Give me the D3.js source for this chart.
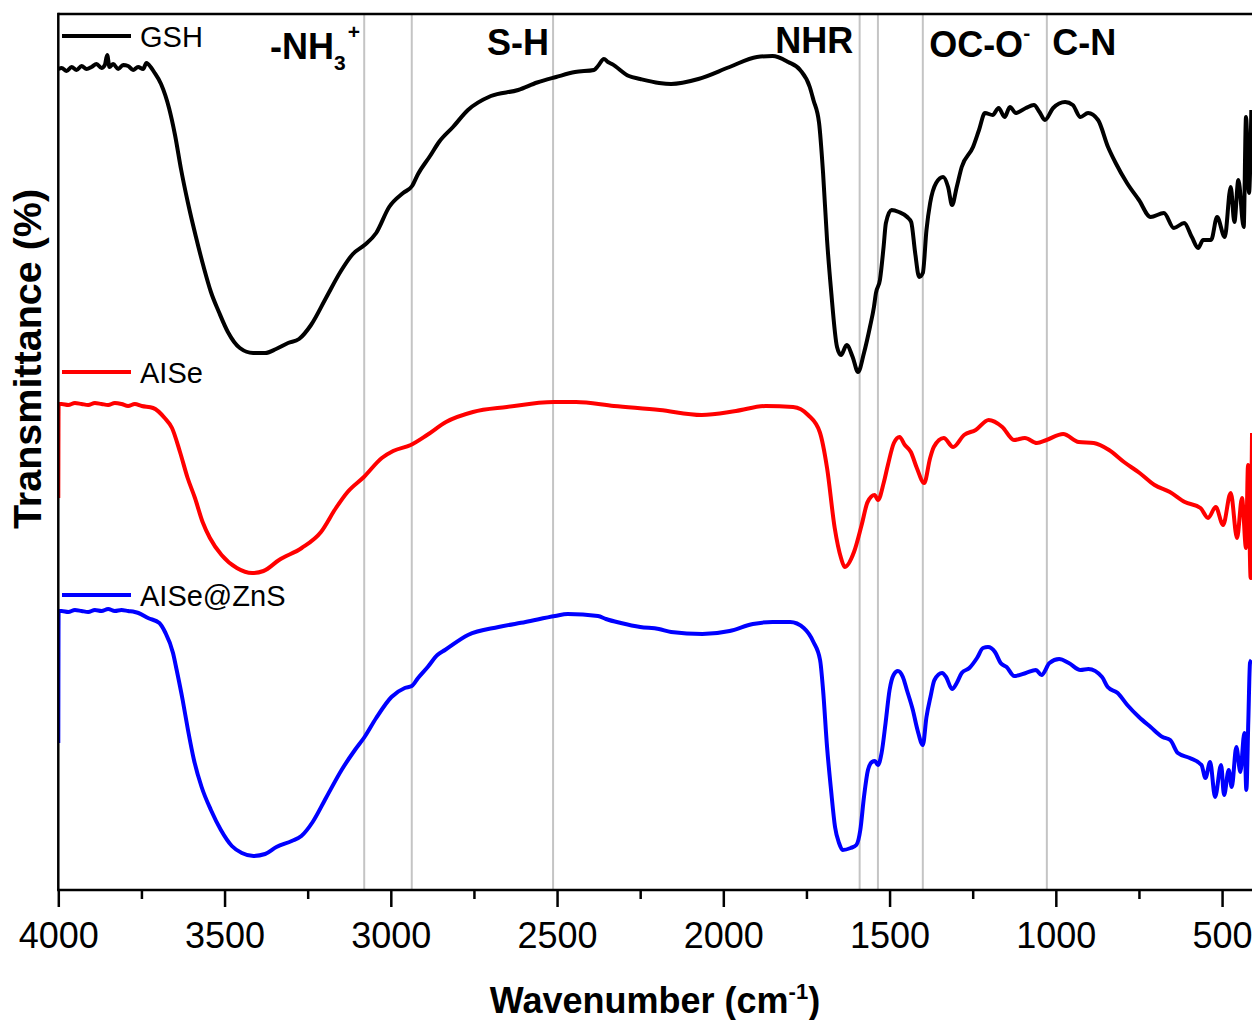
<!DOCTYPE html>
<html><head><meta charset="utf-8">
<script src="https://cdn.jsdelivr.net/npm/d3@7"></script>
<style>body{margin:0;background:#fff} svg{display:block}</style>
</head><body><svg id="c" width="1252" height="1020"></svg>
<script>
// ---- data: [wavenumber (cm-1), transmittance (a.u.)] ----
const gshSpectrum = [[4000,82.1],[3990,82.2],[3975,81.9],[3960,82.3],[3945,82.0],[3930,82.4],[3915,82.1],[3900,82.3],[3885,82.6],[3870,82.2],[3860,82.5],[3853,83.5],[3846,82.3],[3835,82.6],[3820,82.1],[3805,82.5],[3790,82.4],[3775,82.0],[3760,82.3],[3745,82.1],[3735,82.7],[3730,82.6],[3712,81.8],[3691,80.6],[3667,78.2],[3649,75.5],[3631,72.1],[3610,68.7],[3586,65.3],[3562,62.2],[3541,59.8],[3517,57.8],[3490,55.8],[3454,54.2],[3414,53.7],[3378,53.7],[3345,54.1],[3309,54.7],[3276,55.1],[3240,56.5],[3195,59.2],[3150,61.9],[3114,63.6],[3079,64.5],[3044,65.7],[3005,68.3],[2963,69.7],[2936,70.4],[2918,71.6],[2882,73.4],[2855,74.8],[2813,76.3],[2768,78.0],[2699,79.4],[2617,80.0],[2560,80.75],[2503,81.3],[2446,81.8],[2389,82.0],[2377,82.4],[2359,83.1],[2347,82.8],[2335,82.6],[2284,81.4],[2250,81.1],[2193,80.7],[2157,80.6],[2075,81.1],[1981,82.3],[1899,83.3],[1852,83.4],[1805,82.8],[1769,82.0],[1740,80.3],[1729,79.0],[1712,76.7],[1700,71.7],[1688,65.0],[1676,60.0],[1658,54.3],[1646,53.5],[1629,54.5],[1611,53.3],[1595,51.8],[1577,53.7],[1559,56.3],[1547,58.3],[1541,59.7],[1529,61.0],[1518,64.3],[1511,66.7],[1494,68.0],[1472,67.8],[1447,67.3],[1435,66.8],[1423,63.7],[1411,61.3],[1400,61.7],[1389,66.0],[1378,68.7],[1360,70.7],[1339,71.3],[1324,70.3],[1312,68.5],[1298,70.3],[1283,72.3],[1249,74.3],[1231,76.0],[1213,77.7],[1190,77.5],[1172,78.2],[1154,77.3],[1138,78.3],[1120,77.7],[1090,78.2],[1066,78.5],[1049,77.8],[1033,77.0],[1008,78.2],[972,78.8],[949,78.5],[926,77.3],[903,77.7],[873,77.0],[843,74.3],[820,72.7],[786,70.7],[750,69.0],[715,67.3],[675,67.7],[645,66.2],[614,66.7],[591,65.3],[572,64.2],[557,65.0],[533,65.0],[515,67.3],[492,65.3],[474,70.3],[463,66.8],[451,71.0],[435,66.3],[428,77.3],[419,69.7],[412,78.0]];

const aiseSpectrum = [[4000,39.2],[3999,48.6],[3990,48.6],[3970,48.5],[3950,48.7],[3930,48.6],[3910,48.5],[3890,48.7],[3870,48.6],[3850,48.5],[3830,48.7],[3810,48.6],[3790,48.4],[3770,48.6],[3749,48.4],[3715,48.2],[3680,47.2],[3658,46.2],[3634,43.8],[3611,41.2],[3589,39.2],[3566,36.8],[3544,35.2],[3509,33.5],[3463,32.2],[3417,31.7],[3383,31.9],[3336,33.0],[3268,34.2],[3210,35.8],[3165,38.2],[3130,39.8],[3081,41.3],[3027,43.2],[2993,43.9],[2940,44.5],[2891,45.5],[2834,46.8],[2753,47.8],[2651,48.3],[2510,48.8],[2443,48.8],[2329,48.4],[2191,48.0],[2065,47.5],[1962,47.9],[1872,48.4],[1790,48.3],[1745,47.5],[1710,45.8],[1688,42.2],[1665,36.2],[1646,33.2],[1635,32.3],[1607,33.8],[1584,36.5],[1566,38.8],[1545,39.5],[1535,39.0],[1517,40.8],[1505,42.5],[1487,44.7],[1470,45.3],[1454,44.5],[1436,43.8],[1418,42.2],[1396,40.7],[1378,43.2],[1367,44.3],[1337,45.2],[1309,44.3],[1276,45.5],[1241,46.0],[1202,47.0],[1161,46.3],[1126,45.0],[1093,45.2],[1057,44.7],[1028,45.0],[978,45.6],[931,44.8],[886,44.7],[840,44.0],[795,42.8],[748,41.7],[703,40.5],[657,39.8],[612,38.8],[565,38.2],[542,37.2],[519,38.3],[497,36.5],[474,39.7],[455,35.2],[440,39.2],[428,34.2],[422,42.5],[414,31.2],[410,45.7]];

const aiseZnsSpectrum = [[4000,14.7],[3999,27.9],[3990,27.9],[3970,27.8],[3950,28.0],[3930,27.9],[3910,27.8],[3890,28.0],[3870,27.9],[3850,28.1],[3830,27.9],[3810,28.0],[3790,27.9],[3770,27.8],[3759,27.7],[3730,27.2],[3696,26.7],[3679,25.8],[3655,23.7],[3644,22.0],[3626,19.0],[3610,16.0],[3592,13.0],[3569,10.3],[3541,8.0],[3511,6.0],[3478,4.4],[3448,3.7],[3413,3.4],[3378,3.6],[3344,4.3],[3298,4.9],[3269,5.4],[3235,6.8],[3195,9.2],[3148,12.0],[3108,14.0],[3079,15.3],[3044,17.2],[2998,19.3],[2958,20.2],[2937,20.4],[2918,21.2],[2889,22.3],[2860,23.5],[2837,24.0],[2768,25.5],[2676,26.3],[2595,26.8],[2506,27.4],[2468,27.6],[2377,27.4],[2353,27.1],[2308,26.7],[2250,26.3],[2194,26.1],[2157,25.8],[2063,25.6],[1981,25.9],[1911,26.6],[1852,26.8],[1799,26.8],[1758,26.2],[1729,24.8],[1709,23.0],[1700,20.0],[1688,14.3],[1676,10.0],[1664,6.3],[1652,4.7],[1641,4.0],[1617,4.2],[1600,4.5],[1588,6.0],[1577,9.3],[1565,12.0],[1553,12.8],[1544,12.9],[1535,12.5],[1524,13.7],[1512,16.7],[1500,20.0],[1488,21.5],[1475,21.9],[1460,21.3],[1448,20.0],[1430,18.0],[1416,16.0],[1400,14.5],[1389,17.3],[1377,19.3],[1365,21.0],[1342,21.7],[1330,21.3],[1312,20.1],[1298,20.7],[1283,21.7],[1260,22.2],[1237,23.2],[1219,24.2],[1204,24.3],[1183,23.8],[1166,22.7],[1148,22.3],[1125,21.4],[1090,21.7],[1060,22.0],[1043,21.5],[1019,22.7],[990,23.1],[961,22.7],[926,22.0],[902,22.1],[861,21.3],[844,20.3],[814,19.7],[785,18.5],[750,17.3],[715,16.3],[679,15.3],[656,15.0],[633,13.7],[597,13.2],[562,12.5],[550,11.2],[536,12.8],[521,9.3],[503,12.5],[494,9.5],[480,12.0],[471,10.3],[457,14.3],[445,11.8],[433,15.7],[427,10.0],[421,17.0],[416,22.7],[412,23.0]];

const seriesNames = ["GSH", "AISe", "AISe@ZnS"];
const seriesColors = ["#000000", "#ff0000", "#0000ff"];
const seriesData = [gshSpectrum, aiseSpectrum, aiseZnsSpectrum];
const legendLevels = [85.4, 51.8, 29.5];   // y of each legend entry (a.u.)

const xTicks = [4000, 3500, 3000, 2500, 2000, 1500, 1000, 500];
const xMinorTicks = [3750, 3250, 2750, 2250, 1750, 1250, 750];
const peakLines = [3080, 2937, 2512, 1590, 1535, 1400, 1027];
const bandLabelPos = [3363, 2711, 1844, 1381, 1011];

// ---- layout ----
const L = 58.3, R = 1252, T = 14, B = 890;
const svg = d3.select("#c");
const FONT = "'Liberation Sans', Arial, Helvetica, sans-serif";

const x = d3.scaleLinear().domain([4000, 410]).range([L, R]);
const y = d3.scaleLinear().domain([0, 87.6]).range([B, T]);

svg.append("defs").append("clipPath").attr("id", "plotclip")
  .append("rect").attr("x", L).attr("y", T).attr("width", R - L).attr("height", B - T);

// peak guide lines
svg.append("g").selectAll("line").data(peakLines).join("line")
  .attr("x1", d => x(d)).attr("x2", d => x(d))
  .attr("y1", T).attr("y2", B)
  .attr("stroke", "#c4c4c4").attr("stroke-width", 2);

// spectra
const line = d3.line().x(d => x(d[0])).y(d => y(d[1])).curve(d3.curveMonotoneX);
const gLines = svg.append("g").attr("clip-path", "url(#plotclip)");
seriesData.forEach((data, i) => {
  gLines.append("path").datum(data)
    .attr("d", line)
    .attr("fill", "none")
    .attr("stroke", seriesColors[i])
    .attr("stroke-width", 4)
    .attr("stroke-linejoin", "round");
});

// frame
svg.append("line").attr("x1", L).attr("x2", R + 5).attr("y1", T).attr("y2", T)
  .attr("stroke", "#000").attr("stroke-width", 2.5);
svg.append("line").attr("x1", L).attr("x2", L).attr("y1", T - 1.2).attr("y2", B)
  .attr("stroke", "#000").attr("stroke-width", 2.5);

// x axis
const axMajor = svg.append("g").attr("transform", `translate(0,${B})`)
  .call(d3.axisBottom(x).tickValues(xTicks).tickSize(17).tickSizeOuter(0).tickFormat(d3.format("d")));
axMajor.select(".domain").attr("stroke-width", 2.5).attr("d", `M${L - 1.2},0H${R + 5}`);
axMajor.selectAll(".tick line").attr("stroke-width", 2.5);
axMajor.selectAll(".tick text")
  .attr("y", 58).attr("dy", null)
  .attr("font-family", FONT).attr("font-size", 36).attr("fill", "#000");

const axMinor = svg.append("g").attr("transform", `translate(0,${B})`)
  .call(d3.axisBottom(x).tickValues(xMinorTicks).tickSize(9).tickSizeOuter(0).tickFormat(""));
axMinor.select(".domain").remove();
axMinor.selectAll(".tick line").attr("stroke-width", 2.5);

// axis titles
const xt = svg.append("text").attr("x", 655).attr("y", 1013)
  .attr("text-anchor", "middle").attr("font-family", FONT)
  .attr("font-size", 36).attr("font-weight", "bold");
xt.append("tspan").text("Wavenumber (cm");
xt.append("tspan").attr("font-size", 22).attr("dy", -14).text("-1");
xt.append("tspan").attr("dy", 14).text(")");

svg.append("text")
  .attr("transform", "translate(41,359) rotate(-90)")
  .attr("text-anchor", "middle").attr("font-family", FONT)
  .attr("font-size", 39.5).attr("font-weight", "bold")
  .text("Transmittance (%)");

// legend
seriesNames.forEach((name, i) => {
  const ly = y(legendLevels[i]);
  svg.append("line").attr("x1", 62).attr("x2", 131).attr("y1", ly).attr("y2", ly)
    .attr("stroke", seriesColors[i]).attr("stroke-width", 4);
  svg.append("text").attr("x", 140).attr("y", ly + 10.5)
    .attr("font-family", FONT).attr("font-size", 29).attr("fill", "#000")
    .text(name);
});

// band annotations
const bandFont = { "font-family": FONT, "font-size": 36, "font-weight": "bold" };
function band(i, yy) {
  const t = svg.append("text").attr("x", x(bandLabelPos[i])).attr("y", yy);
  Object.entries(bandFont).forEach(([k, v]) => t.attr(k, v));
  return t;
}
// -NH3+
let t = band(0, 59);
t.append("tspan").text("-NH");
t.append("tspan").attr("font-size", 21).attr("dy", 11).text("3");
t.append("tspan").attr("font-size", 21).attr("dx", 2).attr("dy", -31).text("+");
band(1, 55).text("S-H");
band(2, 53).text("NHR");
t = band(3, 57);
t.append("tspan").text("OC-O");
t.append("tspan").attr("font-size", 21).attr("dy", -17).text("-");
band(4, 55).text("C-N");
</script></body></html>
